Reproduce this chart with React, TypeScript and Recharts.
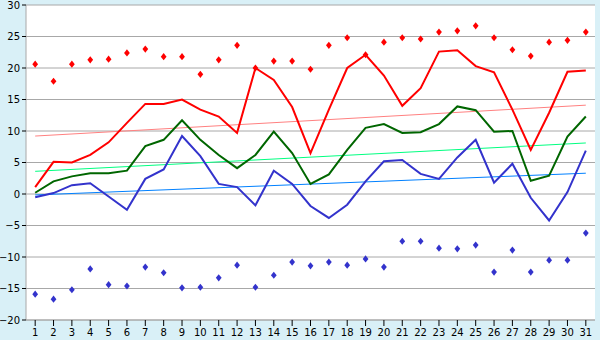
import React from "react";
import { ComposedChart, Line, XAxis, YAxis, CartesianGrid } from "recharts";

const days = Array.from({ length: 31 }, (_, i) => String(i + 1));

const maxTemp = [1.1, 5.1, 5.0, 6.2, 8.2, 11.3, 14.3, 14.3, 15.0, 13.4, 12.3, 9.7, 20.0, 18.1, 13.8, 6.5, 13.4, 20.0, 22.1, 18.8, 14.0, 16.8, 22.6, 22.8, 20.3, 19.3, 13.4, 7.0, 12.9, 19.4, 19.6];
const meanTemp = [0.2, 2.0, 2.8, 3.3, 3.3, 3.7, 7.6, 8.6, 11.7, 8.6, 6.2, 4.1, 6.2, 9.9, 6.5, 1.6, 3.1, 7.0, 10.5, 11.1, 9.7, 9.8, 11.1, 13.9, 13.3, 9.9, 10.0, 2.1, 2.9, 9.1, 12.3];
const minTemp = [-0.5, 0.15, 1.4, 1.7, -0.4, -2.5, 2.4, 3.9, 9.2, 6.0, 1.6, 1.1, -1.8, 3.7, 1.6, -1.9, -3.8, -1.7, 2.0, 5.2, 5.4, 3.2, 2.4, 5.8, 8.6, 1.8, 4.8, -0.6, -4.2, 0.3, 6.9];
const recordMax = [20.6, 17.9, 20.6, 21.3, 21.4, 22.4, 23.0, 21.8, 21.8, 19.0, 21.3, 23.6, 20.0, 21.1, 21.1, 19.8, 23.6, 24.8, 22.1, 24.1, 24.8, 24.6, 25.7, 25.9, 26.7, 24.8, 22.9, 21.9, 24.1, 24.4, 25.7];
const recordMin = [-15.9, -16.7, -15.2, -11.9, -14.4, -14.6, -11.6, -12.5, -14.9, -14.8, -13.3, -11.3, -14.8, -12.9, -10.8, -11.4, -10.8, -11.3, -10.3, -11.6, -7.5, -7.5, -8.6, -8.7, -8.1, -12.4, -8.9, -12.4, -10.5, -10.5, -6.2];
// trend lines: [value on day 1, value on day 31]
const trendMax = [9.2, 14.1];
const trendMean = [3.6, 8.1];
const trendMin = [-0.15, 3.3];
const yTicks = [-20, -15, -10, -5, 0, 5, 10, 15, 20, 25, 30];

const last = days.length - 1;
const data = days.map((d, i) => ({
  day: d,
  max: maxTemp[i],
  mean: meanTemp[i],
  min: minTemp[i],
  recMax: recordMax[i],
  recMin: recordMin[i],
  tMax: i === 0 ? trendMax[0] : i === last ? trendMax[1] : null,
  tMean: i === 0 ? trendMean[0] : i === last ? trendMean[1] : null,
  tMin: i === 0 ? trendMin[0] : i === last ? trendMin[1] : null,
}));

const diamond = (color: string) => (props: any) => {
  const { cx, cy, index } = props;
  if (cx == null || cy == null) return <g key={index} />;
  const r = 3.6;
  return (
    <path
      key={index}
      d={`M${cx},${cy - r} L${cx + r * 0.8},${cy} L${cx},${cy + r} L${cx - r * 0.8},${cy} Z`}
      fill={color}
      stroke="none"
    />
  );
};

const font = { fontFamily: "DejaVu Sans", fontSize: 10, fill: "#000" };
const grey = "#a8a8a8";

export default function App() {
  return (
    <div style={{ position: "absolute", left: 0, top: 0, width: 600, height: 340, background: "#d9f0f7" }}>
      <ComposedChart width={600} height={340} data={data} margin={{ top: 5, right: 5, bottom: 0, left: 0 }}>
        <CartesianGrid yAxisId="l" vertical={false} stroke={grey} fill="#ffffff" fillOpacity={1} />
        <XAxis
          dataKey="day"
          scale="band"
          interval={0}
          height={20}
          tick={font}
          tickSize={6}
          tickMargin={3}
          axisLine={{ stroke: grey }}
          tickLine={{ stroke: "#000" }}
        />
        <YAxis
          yAxisId="l"
          type="number"
          domain={[-20, 30]}
          ticks={yTicks}
          interval={0}
          allowDataOverflow
          width={26}
          tick={font}
          tickSize={4}
          tickMargin={2}
          axisLine={{ stroke: grey }}
          tickLine={{ stroke: "#000" }}
          tickFormatter={(v: number) => String(v).replace("-", "\u2212")}
        />
        <YAxis
          yAxisId="r"
          orientation="right"
          width={0}
          domain={[-20, 30]}
          tick={false}
          tickLine={false}
          axisLine={{ stroke: grey }}
        />
        <Line yAxisId="l" dataKey="tMax" stroke="#ff8080" strokeWidth={1} dot={false} activeDot={false} connectNulls isAnimationActive={false} />
        <Line yAxisId="l" dataKey="tMean" stroke="#00ff80" strokeWidth={1} dot={false} activeDot={false} connectNulls isAnimationActive={false} />
        <Line yAxisId="l" dataKey="tMin" stroke="#0080ff" strokeWidth={1} dot={false} activeDot={false} connectNulls isAnimationActive={false} />
        <Line yAxisId="l" dataKey="recMax" stroke="none" dot={diamond("#ff0000")} activeDot={false} isAnimationActive={false} />
        <Line yAxisId="l" dataKey="recMin" stroke="none" dot={diamond("#3333cc")} activeDot={false} isAnimationActive={false} />
        <Line yAxisId="l" dataKey="min" stroke="#3333cc" strokeWidth={2} dot={false} activeDot={false} isAnimationActive={false} />
        <Line yAxisId="l" dataKey="mean" stroke="#006600" strokeWidth={2} dot={false} activeDot={false} isAnimationActive={false} />
        <Line yAxisId="l" dataKey="max" stroke="#ff0000" strokeWidth={2} dot={false} activeDot={false} isAnimationActive={false} />
      </ComposedChart>
    </div>
  );
}
